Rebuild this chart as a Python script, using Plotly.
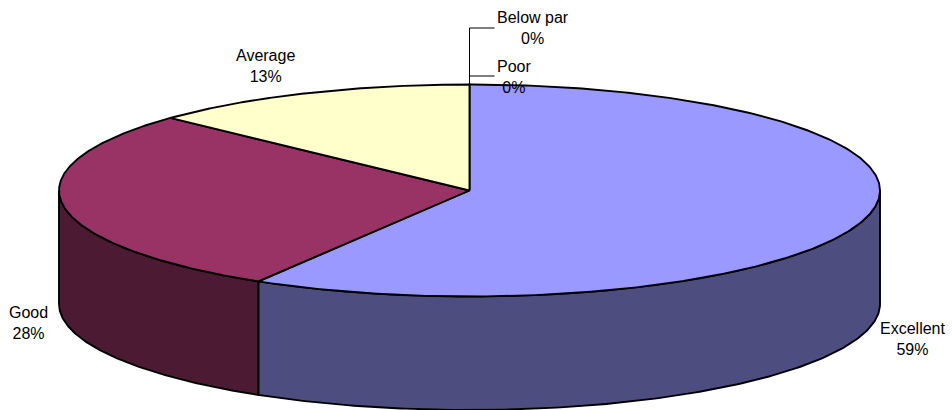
import numpy as np
import plotly.graph_objects as go

categories = ["Excellent", "Good", "Average", "Poor", "Below par"]
values = [58.6, 28.4, 13.0, 0.0, 0.0]
top_colors = ["#9999FF", "#993366", "#FFFFCC", "#FFFFFF", "#CCFFFF"]
side_colors = ["#4D4D80", "#4D1A33", "#808066", "#808080", "#668080"]

W, H = 952, 410
CX, CY, RX, RY, DEPTH = 469.5, 190.5, 410.5, 106.0, 113.5
LINE = dict(color="#000000", width=1.9)
LABEL_POS = {
    "Excellent": (912.5, 339),
    "Good": (28, 323),
    "Average": (265, 66),
    "Poor": (514, 76.5),
    "Below par": (532.5, 28),
}


def pt(theta, dy=0.0):
    theta = np.asarray(theta)
    return CX + RX * np.sin(theta), CY - RY * np.cos(theta) + dy


fig = go.Figure()
total = sum(values)
edges = np.concatenate([[0.0], np.cumsum(values)]) / total * 2 * np.pi


def add_poly(x, y, color):
    fig.add_trace(go.Scatter(x=x, y=y, mode="lines", fill="toself", fillcolor=color,
                             line=LINE, hoverinfo="skip", showlegend=False))


# Side walls: only the front half of the rim (pi/2 .. 3pi/2) is visible
for i in range(len(values)):
    a = max(edges[i], np.pi / 2)
    b = min(edges[i + 1], 3 * np.pi / 2)
    if b <= a:
        continue
    t = np.linspace(a, b, 200)
    x0, y0 = pt(t)
    x1, y1 = pt(t[::-1], DEPTH)
    add_poly(np.concatenate([x0, x1, x0[:1]]), np.concatenate([y0, y1, y0[:1]]), side_colors[i])

# Top face slices
for i in range(len(values)):
    if values[i] <= 0:
        continue
    t = np.linspace(edges[i], edges[i + 1], 400)
    x0, y0 = pt(t)
    add_poly(np.concatenate([[CX], x0, [CX]]), np.concatenate([[CY], y0, [CY]]), top_colors[i])

# Leader lines for the zero-size slices
rim_x, rim_y = pt(0.0)
for name in ["Poor", "Below par"]:
    ly = LABEL_POS[name][1] - (0 if name == "Below par" else 0.5)
    fig.add_trace(go.Scatter(x=[rim_x, rim_x, rim_x + 25], y=[rim_y, ly, ly], mode="lines",
                             line=dict(color="#000000", width=1), hoverinfo="skip", showlegend=False))

for name, v in zip(categories, values):
    px, py = LABEL_POS[name]
    fig.add_annotation(x=px, y=py, text=f"{name}<br>{v / total * 100:.0f}%", showarrow=False,
                       xanchor="center", yanchor="middle", align="center",
                       font=dict(family="Liberation Sans, Arial, sans-serif", size=16, color="#000000"))

fig.update_layout(
    width=W, height=H, margin=dict(l=0, r=0, t=0, b=0),
    paper_bgcolor="#FFFFFF", plot_bgcolor="#FFFFFF", showlegend=False,
    xaxis=dict(range=[0, W], visible=False, fixedrange=True),
    yaxis=dict(range=[H, 0], visible=False, fixedrange=True),
)
fig.write_html("out.html", config={"displayModeBar": False}, include_plotlyjs=True,
               default_width=f"{W}px", default_height=f"{H}px",
               post_script="document.body.style.margin='0';document.body.style.overflow='hidden';")
